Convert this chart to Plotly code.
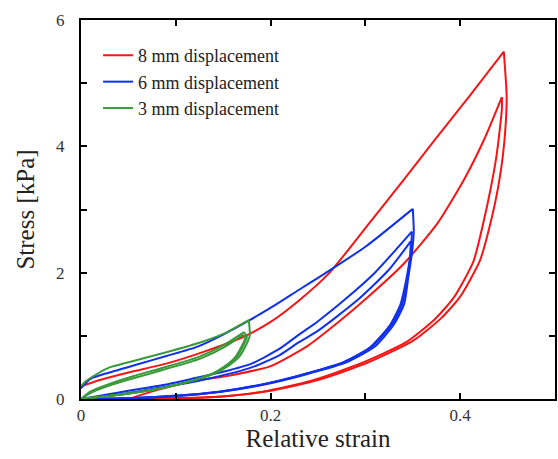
import plotly.graph_objects as go

# ---------------- data ----------------
# 8 mm displacement (red)
red_load_x = [0.0, 0.02, 0.05, 0.09, 0.13, 0.172, 0.20, 0.23, 0.261, 0.305, 0.341, 0.373, 0.41, 0.446]
red_load_y = [0.20, 0.30, 0.42, 0.56, 0.75, 0.99, 1.22, 1.56, 1.98, 2.80, 3.48, 4.10, 4.80, 5.50]
red_unload1_x = [0.446, 0.449, 0.448, 0.445, 0.440, 0.433, 0.421, 0.40, 0.38, 0.35, 0.30, 0.25, 0.20, 0.15, 0.10, 0.06]
red_unload1_y = [5.50, 4.80, 4.35, 3.85, 3.35, 2.85, 2.20, 1.62, 1.28, 0.92, 0.56, 0.30, 0.13, 0.04, 0.01, 0.0]
red_reload1_x = [0.05, 0.08, 0.114, 0.16, 0.20, 0.24, 0.27, 0.30, 0.341, 0.376, 0.405, 0.425, 0.444]
red_reload1_y = [0.0, 0.14, 0.27, 0.38, 0.52, 0.85, 1.20, 1.58, 2.15, 2.78, 3.50, 4.10, 4.78]
red_unload2_x = [0.444, 0.444, 0.442, 0.438, 0.432, 0.425, 0.414, 0.393, 0.373, 0.343, 0.293, 0.243, 0.193, 0.143, 0.095, 0.055]
red_unload2_y = [4.78, 4.60, 4.30, 3.82, 3.32, 2.83, 2.18, 1.60, 1.26, 0.90, 0.55, 0.29, 0.12, 0.035, 0.01, 0.0]

# 6 mm displacement (blue)
blue_load_x = [0.0, 0.01, 0.03, 0.06, 0.09, 0.123, 0.15, 0.177, 0.205, 0.23, 0.2575, 0.30, 0.35]
blue_load_y = [0.17, 0.32, 0.42, 0.55, 0.68, 0.83, 1.02, 1.24, 1.49, 1.73, 1.99, 2.41, 3.01]
blue_unload1_x = [0.35, 0.351, 0.349, 0.345, 0.341, 0.33, 0.31, 0.28, 0.24, 0.20, 0.15, 0.10, 0.05, 0.0]
blue_unload1_y = [3.01, 2.65, 2.30, 1.90, 1.51, 1.18, 0.83, 0.58, 0.40, 0.25, 0.12, 0.05, 0.01, 0.0]
blue_reload1_x = [0.0, 0.02, 0.05, 0.09, 0.123, 0.15, 0.18, 0.21, 0.23, 0.249, 0.278, 0.31, 0.349]
blue_reload1_y = [0.0, 0.05, 0.13, 0.23, 0.34, 0.43, 0.56, 0.80, 1.02, 1.22, 1.57, 2.00, 2.65]
blue_unload2_x = [0.349, 0.348, 0.344, 0.339, 0.328, 0.307, 0.277, 0.237, 0.197, 0.147, 0.097, 0.047, 0.0]
blue_unload2_y = [2.65, 2.30, 1.90, 1.51, 1.18, 0.83, 0.58, 0.40, 0.25, 0.12, 0.05, 0.01, 0.0]
blue_reload2_x = [0.0, 0.03, 0.06, 0.10, 0.14, 0.18, 0.21, 0.23, 0.249, 0.292, 0.325, 0.348]
blue_reload2_y = [0.0, 0.05, 0.12, 0.22, 0.34, 0.50, 0.70, 0.90, 1.07, 1.57, 2.05, 2.50]
blue_unload3_x = [0.348, 0.347, 0.343, 0.337, 0.326, 0.305, 0.275, 0.235, 0.195, 0.145, 0.095, 0.045, 0.0]
blue_unload3_y = [2.50, 2.25, 1.88, 1.50, 1.17, 0.82, 0.57, 0.39, 0.24, 0.11, 0.04, 0.01, 0.0]

# 3 mm displacement (green)
green_load_x = [0.0, 0.005, 0.015, 0.03, 0.06, 0.09, 0.125, 0.15, 0.177]
green_load_y = [0.20, 0.28, 0.38, 0.50, 0.62, 0.74, 0.89, 1.03, 1.25]
green_unload1_x = [0.177, 0.178, 0.174, 0.167, 0.155, 0.142, 0.12, 0.09, 0.06, 0.03, 0.01, 0.0]
green_unload1_y = [1.25, 1.00, 0.85, 0.67, 0.52, 0.41, 0.30, 0.185, 0.11, 0.05, 0.02, 0.0]
green_reload1_x = [0.0, 0.01, 0.03, 0.055, 0.083, 0.123, 0.15, 0.172]
green_reload1_y = [0.0, 0.12, 0.24, 0.36, 0.48, 0.66, 0.85, 1.06]
green_unload2_x = [0.172, 0.175, 0.171, 0.164, 0.152, 0.139, 0.117, 0.087, 0.057, 0.027, 0.008, 0.0]
green_unload2_y = [1.06, 0.98, 0.84, 0.66, 0.51, 0.40, 0.29, 0.18, 0.10, 0.045, 0.015, 0.0]
green_reload2_x = [0.0, 0.012, 0.033, 0.058, 0.086, 0.126, 0.152, 0.171]
green_reload2_y = [0.0, 0.11, 0.23, 0.34, 0.46, 0.64, 0.83, 1.02]
green_unload3_x = [0.171, 0.173, 0.169, 0.162, 0.150, 0.137, 0.115, 0.085, 0.055, 0.025, 0.007, 0.0]
green_unload3_y = [1.02, 0.96, 0.82, 0.65, 0.50, 0.39, 0.28, 0.17, 0.095, 0.04, 0.012, 0.0]

series_names = ["8 mm displacement", "6 mm displacement", "3 mm displacement"]
x_tick_vals = [0, 0.2, 0.4]
x_tick_text = ["0", "0.2", "0.4"]
y_tick_vals = [0, 2, 4, 6]
y_tick_text = ["0", "2", "4", "6"]


def join(*parts):
    xs, ys = [], []
    for px, py in parts:
        if xs:
            xs.append(None)
            ys.append(None)
        xs.extend(px)
        ys.extend(py)
    return xs, ys


red_x, red_y = join((red_load_x, red_load_y), (red_unload1_x, red_unload1_y),
                    (red_reload1_x, red_reload1_y), (red_unload2_x, red_unload2_y))
blue_x, blue_y = join((blue_load_x, blue_load_y), (blue_unload1_x, blue_unload1_y),
                      (blue_reload1_x, blue_reload1_y), (blue_unload2_x, blue_unload2_y),
                      (blue_reload2_x, blue_reload2_y), (blue_unload3_x, blue_unload3_y))
green_x, green_y = join((green_load_x, green_load_y), (green_unload1_x, green_unload1_y),
                        (green_reload1_x, green_reload1_y), (green_unload2_x, green_unload2_y),
                        (green_reload2_x, green_reload2_y), (green_unload3_x, green_unload3_y))

colors = ["#f51515", "#1030ea", "#3a9a3a"]
FONT = "Liberation Serif, Times New Roman, serif"

fig = go.Figure()
for name, xs, ys, c in [(series_names[0], red_x, red_y, colors[0]),
                        (series_names[1], blue_x, blue_y, colors[1]),
                        (series_names[2], green_x, green_y, colors[2])]:
    fig.add_trace(go.Scatter(x=xs, y=ys, mode="lines", name=name,
                             line=dict(color=c, width=2, shape="spline", smoothing=0.6),
                             connectgaps=False))

axis_common = dict(showline=True, linecolor="black", linewidth=2, mirror="ticks",
                   ticks="inside", ticklen=6, tickwidth=2, tickcolor="black",
                   showgrid=False, zeroline=False,
                   tickfont=dict(family=FONT, size=17, color="#333"))

fig.update_xaxes(range=[0, 0.5], tickvals=x_tick_vals, ticktext=x_tick_text,
                 minor=dict(dtick=0.1, tick0=0, ticks="inside", ticklen=6, tickwidth=2, tickcolor="black"),
                 title=dict(text="Relative strain", font=dict(family=FONT, size=25, color="#222"), standoff=2),
                 **axis_common)
fig.update_yaxes(range=[0, 6], tickvals=y_tick_vals, ticktext=y_tick_text,
                 ticklabelstandoff=11,
                 minor=dict(dtick=1, tick0=0, ticks="inside", ticklen=6, tickwidth=2, tickcolor="black"),
                 title=dict(text="Stress [kPa]", font=dict(family=FONT, size=25, color="#222"), standoff=14),
                 **axis_common)

fig.update_layout(
    width=558, height=459,
    margin=dict(l=81, r=1, t=20, b=60),
    paper_bgcolor="white", plot_bgcolor="white",
    showlegend=True,
    legend=dict(x=0.036, y=0.955, xanchor="left", yanchor="top",
                bgcolor="rgba(0,0,0,0)", font=dict(family=FONT, size=18, color="#222"),
                tracegroupgap=0, itemwidth=30),
)

# remove the default 8px page margin so the figure fills the window exactly
fig.write_html("out.html", config={"displayModeBar": False},
               post_script="document.body.style.margin='0px';")
